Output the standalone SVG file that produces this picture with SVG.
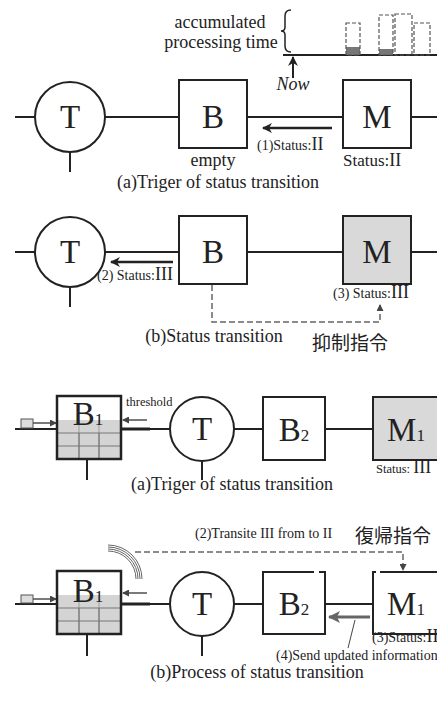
<svg xmlns="http://www.w3.org/2000/svg" width="437" height="701" viewBox="0 0 437 701">
<style>
.ln{stroke:#222;stroke-width:2;fill:none}
.box{fill:#fff;stroke:#222;stroke-width:2}
.gbox{fill:#d9d9d9;stroke:#222;stroke-width:2}
.circ{fill:#fff;stroke:#222;stroke-width:2}
.big{font-family:"Liberation Serif",serif;font-size:33px;fill:#222;text-anchor:middle}
.cap{font-family:"Liberation Serif",serif;font-size:18px;fill:#222;text-anchor:middle}
.sm{font-family:"Liberation Serif",serif;font-size:14px;fill:#222}
.rn{font-family:"Liberation Serif",serif;font-size:18px}
.cjk{font-family:"Noto Sans CJK JP","Noto Sans CJK SC",sans-serif;font-size:19px;fill:#222}
.dash{stroke:#666;stroke-width:1.5;stroke-dasharray:6,3;fill:none}
.drect{stroke:#555;stroke-width:1.2;stroke-dasharray:4,2;fill:none}
.grid{fill:#d4d4d4}
.gl{stroke:#777;stroke-width:1.2}
</style>
<defs>
<marker id="ah" markerWidth="10" markerHeight="10" refX="9" refY="5" orient="auto" markerUnits="userSpaceOnUse">
<path d="M0,0 L10,5 L0,10 L3,5 Z" fill="#222"/>
</marker>
<marker id="ahs" markerWidth="7" markerHeight="7" refX="6" refY="3.5" orient="auto" markerUnits="userSpaceOnUse">
<path d="M0,0 L7,3.5 L0,7 Z" fill="#444"/>
</marker>
<marker id="ahg" markerWidth="12" markerHeight="12" refX="11" refY="6" orient="auto" markerUnits="userSpaceOnUse">
<path d="M0,0 L12,6 L0,12 L3,6 Z" fill="#666"/>
</marker>
</defs>

<!-- ===== Panel (a) top ===== -->
<g id="timeline">
<text class="cap" x="220" y="28" font-size="16.5">accumulated</text>
<text class="cap" x="221" y="48" font-size="16.5">processing time</text>
<path d="M291,10 Q285,10 285,16 L285,27 Q285,31 281,31 Q285,31 285,35 L285,46 Q285,52 291,52" stroke="#222" stroke-width="1.5" fill="none"/>
<line x1="283" y1="55" x2="437" y2="55" class="ln"/>
<rect x="346" y="47" width="14" height="8" fill="#777"/>
<rect x="346" y="23" width="14" height="32" class="drect"/>
<rect x="379" y="49" width="14" height="6" fill="#777"/>
<rect x="379" y="15" width="14" height="40" class="drect"/>
<rect x="395" y="14" width="17" height="41" class="drect"/>
<rect x="414" y="23" width="16" height="32" class="drect"/>
<line x1="293" y1="78" x2="293" y2="57" stroke="#222" stroke-width="2" marker-end="url(#ah)"/>
<text x="293" y="90" font-family="Liberation Serif,serif" font-style="italic" font-size="18" fill="#222" text-anchor="middle">Now</text>
</g>
<g id="connectors-a1">
<line x1="15" y1="117" x2="437" y2="117" class="ln"/>
<line x1="70" y1="152" x2="70" y2="172" class="ln"/>
<line x1="332" y1="128" x2="263" y2="128" stroke="#222" stroke-width="2.5" marker-end="url(#ah)"/>
</g>
<g id="T-a1"><circle cx="70" cy="117" r="35" class="circ"/><text class="big" x="70" y="128">T</text></g>
<g id="B-a1"><rect x="179" y="80" width="68" height="68" class="box"/><text class="big" x="213" y="128">B</text>
<text class="cap" x="213" y="166" font-size="17">empty</text></g>
<g id="M-a1"><rect x="343" y="80" width="68" height="68" class="box"/><text class="big" x="377" y="128">M</text>
<text x="343" y="166" font-family="Liberation Serif,serif" font-size="17" fill="#222">Status:<tspan class="rn" font-size="21">II</tspan></text></g>
<text class="sm" x="257" y="150">(1)Status:<tspan class="rn" font-size="19">II</tspan></text>
<text class="cap" x="218" y="188">(a)Triger of status transition</text>

<!-- ===== Panel (b) top ===== -->
<g id="connectors-b1">
<line x1="15" y1="252" x2="437" y2="252" class="ln"/>
<line x1="70" y1="287" x2="70" y2="307" class="ln"/>
<line x1="173" y1="262" x2="111" y2="262" stroke="#222" stroke-width="2.5" marker-end="url(#ah)"/>
<path d="M212,285 L212,322 L380,322 L380,305" class="dash" marker-end="url(#ahs)"/>
</g>
<g id="T-b1"><circle cx="70" cy="252" r="35" class="circ"/><text class="big" x="70" y="263">T</text></g>
<g id="B-b1"><rect x="179" y="216" width="68" height="68" class="box"/><text class="big" x="213" y="263">B</text></g>
<g id="M-b1"><rect x="343" y="216" width="68" height="68" class="gbox"/><text class="big" x="377" y="263">M</text></g>
<text class="sm" x="97" y="280" font-size="13.5">(2) Status:<tspan class="rn">III</tspan></text>
<text class="sm" x="333" y="298">(3) Status:<tspan class="rn" font-size="19">III</tspan></text>
<text class="cap" x="214" y="342" font-size="17.5">(b)Status transition</text>
<text class="cjk" x="312" y="350">抑制指令</text>

<!-- ===== Panel (a) bottom ===== -->
<g id="connectors-a2">
<line x1="15" y1="429" x2="437" y2="429" class="ln"/>
<line x1="121" y1="429" x2="150" y2="429" stroke="#222" stroke-width="3"/>
<line x1="87" y1="459" x2="87" y2="480" class="ln"/>
<line x1="202" y1="461" x2="202" y2="480" class="ln"/>
<line x1="33" y1="423" x2="56" y2="423" stroke="#222" stroke-width="1.2" marker-end="url(#ahs)"/>
<line x1="147" y1="420" x2="123" y2="420" stroke="#222" stroke-width="1.2" marker-end="url(#ahs)"/>
</g>
<rect x="21" y="419" width="12" height="9" fill="#ddd" stroke="#555" stroke-width="1"/>
<g id="B1-a2">
<rect x="57" y="396" width="64" height="63" fill="#fff"/>
<rect x="57" y="420" width="64" height="39" class="grid"/>
<line x1="57" y1="433" x2="121" y2="433" class="gl"/>
<line x1="57" y1="446" x2="121" y2="446" class="gl"/>
<line x1="79" y1="420" x2="79" y2="459" class="gl" stroke-opacity="0.5"/>
<line x1="99" y1="420" x2="99" y2="459" class="gl" stroke-opacity="0.5"/>
<line x1="79" y1="433" x2="79" y2="459" class="gl"/>
<line x1="99" y1="433" x2="99" y2="459" class="gl"/>
<rect x="57" y="396" width="64" height="63" fill="none" stroke="#222" stroke-width="2.5"/>
<text class="big" x="88" y="425" font-size="32">B<tspan font-size="17">1</tspan></text>
</g>
<text x="126" y="406" font-family="Liberation Serif,serif" font-size="12.5" fill="#222">threshold</text>
<g id="T-a2"><circle cx="202" cy="429" r="32" class="circ"/><text class="big" x="202" y="440" font-size="32">T</text></g>
<g id="B2-a2"><rect x="263" y="397" width="62" height="63" class="box"/><text class="big" x="294" y="441" font-size="32">B<tspan font-size="17">2</tspan></text></g>
<g id="M1-a2"><rect x="373" y="397" width="66" height="63" class="gbox"/><text class="big" x="406" y="441" font-size="32">M<tspan font-size="17">1</tspan></text>
<text x="376" y="473" font-family="Liberation Serif,serif" font-size="12.5" fill="#222">Status: <tspan class="rn">III</tspan></text></g>
<text class="cap" x="232" y="490" font-size="17.5">(a)Triger of status transition</text>

<!-- ===== Panel (b) bottom ===== -->
<text class="sm" x="195" y="538" font-size="14.5">(2)Transite III from to II</text>
<text class="cjk" x="355" y="543" font-size="20">復帰指令</text>
<g id="connectors-b2">
<path d="M135,552 L403,552 L403,570" class="dash" marker-end="url(#ahs)"/>
<line x1="15" y1="604" x2="437" y2="604" class="ln"/>
<line x1="121" y1="604" x2="150" y2="604" stroke="#222" stroke-width="3"/>
<line x1="87" y1="634" x2="87" y2="656" class="ln"/>
<line x1="202" y1="636" x2="202" y2="656" class="ln"/>
<line x1="33" y1="599" x2="56" y2="599" stroke="#222" stroke-width="1.2" marker-end="url(#ahs)"/>
<line x1="147" y1="593" x2="123" y2="593" stroke="#222" stroke-width="1.2" marker-end="url(#ahs)"/>
<line x1="370" y1="617" x2="329" y2="617" stroke="#666" stroke-width="3" marker-end="url(#ahg)"/>
<line x1="355" y1="620" x2="348" y2="648" stroke="#444" stroke-width="1"/>
<g stroke="#666" stroke-width="1" fill="none">
<path d="M108,551 A28,28 0 0 1 136,579"/>
<path d="M108,549 A30,30 0 0 1 138,579"/>
<path d="M108,547 A32,32 0 0 1 140,579"/>
<path d="M108,545 A34,34 0 0 1 142,579"/>
</g>
</g>
<rect x="21" y="595" width="12" height="8" fill="#ddd" stroke="#555" stroke-width="1"/>
<g id="B1-b2">
<rect x="57" y="571" width="64" height="63" fill="#fff"/>
<rect x="57" y="595" width="64" height="39" class="grid"/>
<line x1="57" y1="608" x2="121" y2="608" class="gl"/>
<line x1="57" y1="621" x2="121" y2="621" class="gl"/>
<line x1="79" y1="595" x2="79" y2="634" class="gl" stroke-opacity="0.5"/>
<line x1="99" y1="595" x2="99" y2="634" class="gl" stroke-opacity="0.5"/>
<line x1="79" y1="608" x2="79" y2="634" class="gl"/>
<line x1="99" y1="608" x2="99" y2="634" class="gl"/>
<rect x="57" y="571" width="64" height="63" fill="none" stroke="#222" stroke-width="2.5"/>
<text class="big" x="88" y="602" font-size="32">B<tspan font-size="17">1</tspan></text>
</g>
<g id="T-b2"><circle cx="202" cy="604" r="32" class="circ"/><text class="big" x="202" y="615" font-size="32">T</text></g>
<g id="B2-b2"><rect x="263" y="572" width="62" height="62" class="box"/>
<rect x="314" y="569" width="5" height="5" fill="#fff"/>
<text class="big" x="294" y="615" font-size="32">B<tspan font-size="17">2</tspan></text></g>
<g id="M1-b2"><rect x="373" y="572" width="66" height="62" class="box"/>
<rect x="376" y="569" width="4" height="5" fill="#fff"/>
<text class="big" x="406" y="615" font-size="32">M<tspan font-size="17">1</tspan></text></g>
<text class="sm" x="372" y="642" font-size="13.5">(3)Status:<tspan class="rn" font-size="17">II</tspan></text>
<text class="sm" x="276" y="660" font-size="13.3">(4)Send updated information</text>
<text class="cap" x="257" y="678" font-size="18.5">(b)Process of status transition</text>
</svg>
